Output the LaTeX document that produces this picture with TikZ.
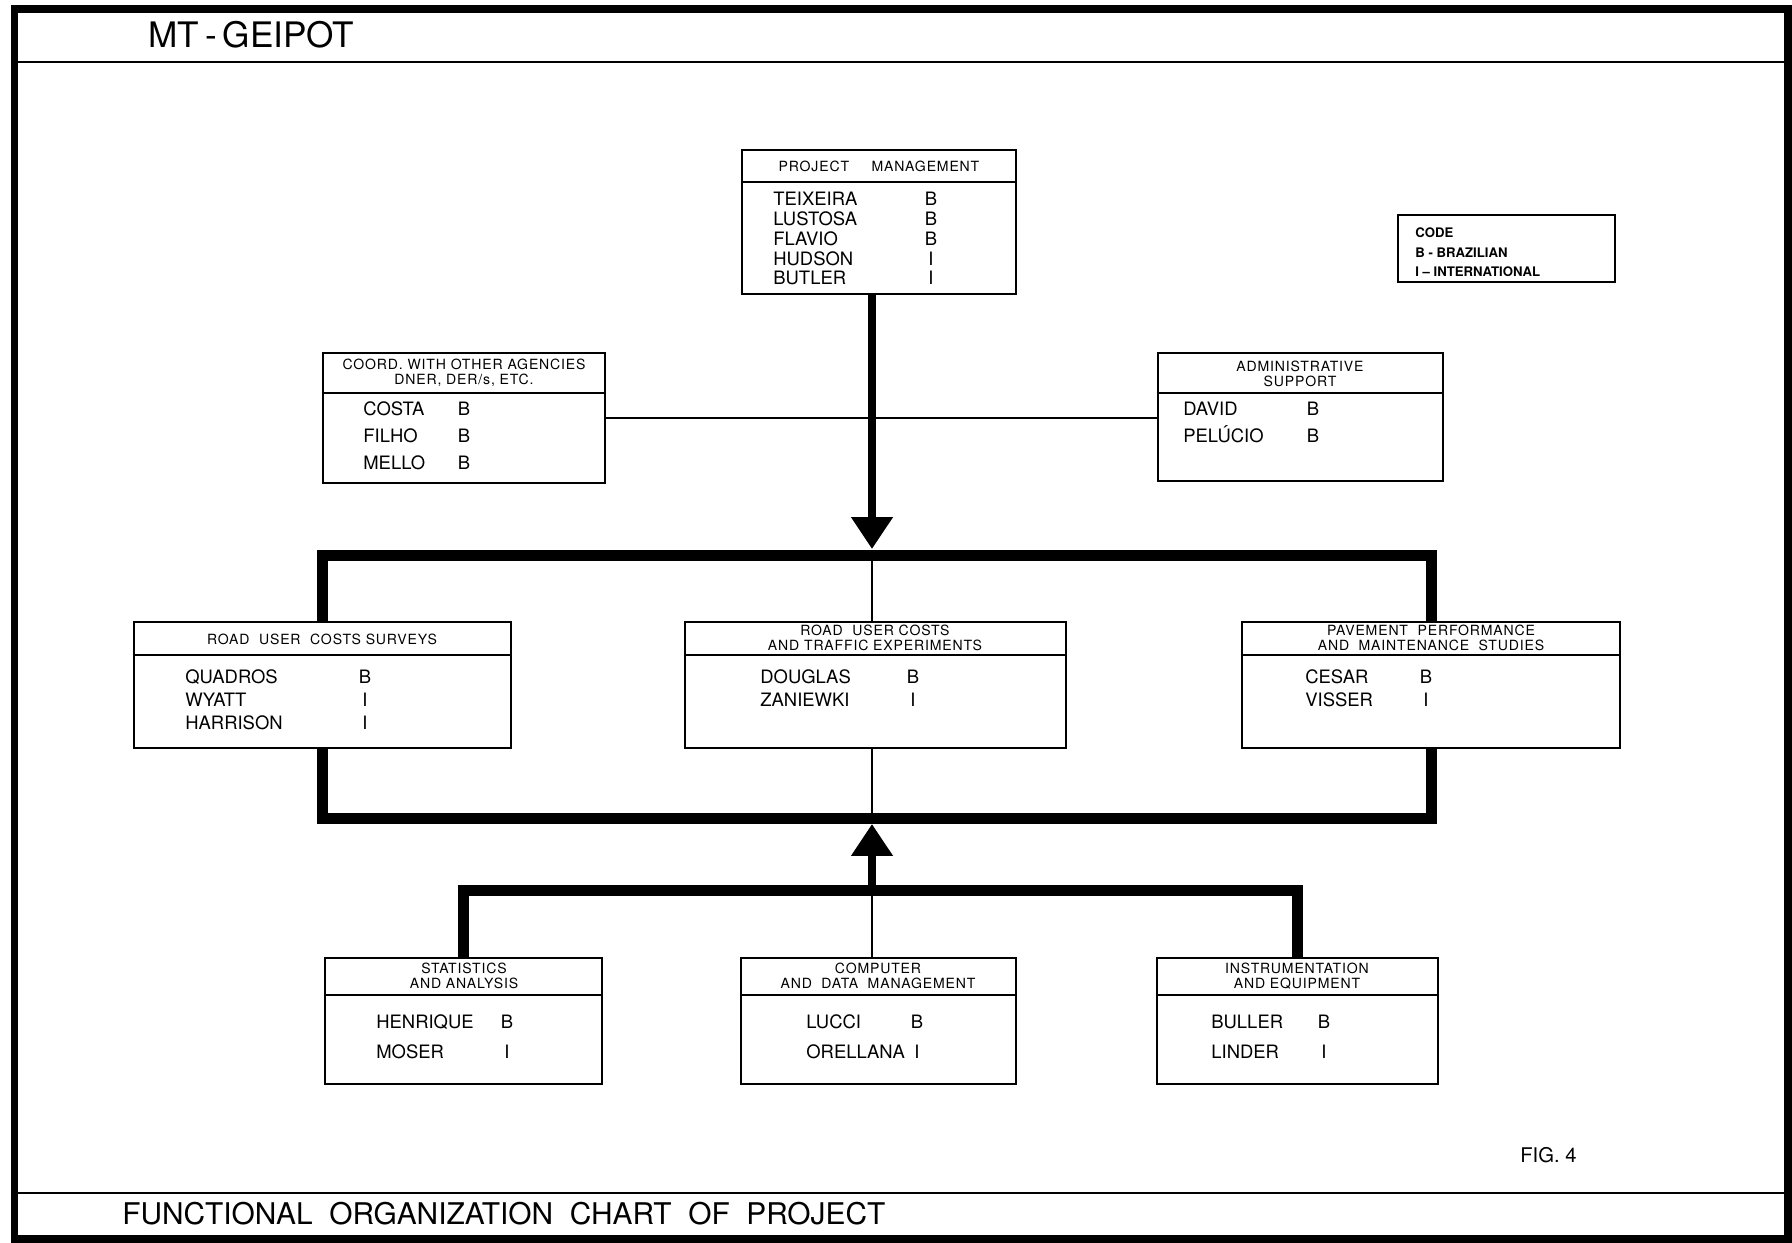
\documentclass[tikz,border=0pt]{standalone}
\usepackage{fontspec}
\setmainfont{TeX Gyre Heros}
\newfontfamily\capsfont[LetterSpace=6]{TeX Gyre Heros}
\usetikzlibrary{arrows.meta,fit}

\begin{document}
\begin{tikzpicture}[x=0.02cm,y=-0.02cm]
\tikzstyle{unit}=[draw,rectangle,line width=0.055cm,inner sep=0pt]
\tikzstyle{heading}=[align=center,inner sep=0pt,font=\capsfont\fontsize{8}{8.6}\selectfont]
\tikzstyle{person}=[anchor=base west,inner sep=0pt,font=\fontsize{10.5}{12}\selectfont]
\tikzstyle{nation}=[anchor=base,inner sep=0pt,font=\fontsize{10.5}{12}\selectfont]
\tikzstyle{rule}=[draw,line width=0.04cm]
\tikzstyle{link}=[draw,line width=0.05cm]
\tikzstyle{bus}=[draw,line width=0.22cm]
\tikzstyle{shaft}=[draw,line width=0.16cm,-{Triangle[width=0.8cm,length=0.64cm]}]

\useasboundingbox (0,0) rectangle (1792,1243);

% sheet frame
\node[draw,line width=0.16cm,inner sep=0pt,fit={(14.5,9) (1787.5,1239)}] (sheet) {};
\path[rule] (sheet.west |- 0,62) -- (sheet.east |- 0,62);
\path[rule] (sheet.west |- 0,1193) -- (sheet.east |- 0,1193);
\node[anchor=west,inner sep=0pt,font=\fontsize{20}{20}\selectfont] (title) at (148,35) {MT\hspace{0.12cm}-\hspace{0.12cm}GEIPOT};
\node[anchor=west,inner sep=0pt,font=\fontsize{17}{17}\selectfont] (caption) at (122,1214) {FUNCTIONAL\ \ ORGANIZATION\ \ CHART\ \ OF\ \ PROJECT};
\node[anchor=west,inner sep=0pt,font=\fontsize{11.5}{12}\selectfont] (fig) at (1520,1155) {FIG. 4};

% project management
\node[unit,fit={(742,150) (1016,294)}] (pm) {};
\path[rule] (pm.west |- 0,182) -- (pm.east |- 0,182);
\node[heading] (pm-h) at (879,166) {PROJECT\hspace{0.45cm}MANAGEMENT};
\foreach \nm/\cd [count=\i from 0] in {TEIXEIRA/B,LUSTOSA/B,FLAVIO/B,HUDSON/I,BUTLER/I}{
  \node[person] (pm-n\i) at (773,{206+19.7*\i}) {\nm};
  \node[nation] (pm-c\i) at (931,{206+19.7*\i}) {\cd};
}

% code
\node[unit,fit={(1398,215) (1615,282)}] (code) {};
\foreach \tx [count=\i from 0] in {CODE,B - BRAZILIAN,I -- INTERNATIONAL}
  \node[anchor=base west,inner sep=0pt,font=\bfseries\fontsize{7.5}{9}\selectfont] (code-\i) at (1415,{238+19.3*\i}) {\tx};

% coordination
\node[unit,fit={(323,353) (605,483)}] (coord) {};
\path[rule] (coord.west |- 0,393) -- (coord.east |- 0,393);
\node[heading] (coord-h) at (464,373) {COORD. WITH OTHER AGENCIES\\DNER, DER/s, ETC.};
\foreach \nm/\cd [count=\i from 0] in {COSTA/B,FILHO/B,MELLO/B}{
  \node[person] (coord-n\i) at (363,{416+26.5*\i}) {\nm};
  \node[nation] (coord-c\i) at (464,{416+26.5*\i}) {\cd};
}

% administrative support
\node[unit,fit={(1158,353) (1443,481)}] (admin) {};
\path[rule] (admin.west |- 0,393) -- (admin.east |- 0,393);
\node[heading] (admin-h) at (1300,374) {ADMINISTRATIVE\\SUPPORT};
\foreach \nm/\cd [count=\i from 0] in {DAVID/B,PELÚCIO/B}{
  \node[person] (admin-n\i) at (1183,{416+26*\i}) {\nm};
  \node[nation] (admin-c\i) at (1313,{416+26*\i}) {\cd};
}

% road user costs surveys
\node[unit,fit={(134,622) (511,748)}] (rucs) {};
\path[rule] (rucs.west |- 0,655) -- (rucs.east |- 0,655);
\node[heading] (rucs-h) at (322,639) {ROAD\ \ USER\ \ COSTS SURVEYS};
\foreach \nm/\cd [count=\i from 0] in {QUADROS/B,WYATT/I,HARRISON/I}{
  \node[person] (rucs-n\i) at (185,{683+23*\i}) {\nm};
  \node[nation] (rucs-c\i) at (365,{683+23*\i}) {\cd};
}

% traffic experiments
\node[unit,fit={(685,622) (1066,748)}] (ruct) {};
\path[rule] (ruct.west |- 0,655) -- (ruct.east |- 0,655);
\node[heading] (ruct-h) at (875,638) {ROAD\ \ USER COSTS\\AND TRAFFIC EXPERIMENTS};
\foreach \nm/\cd [count=\i from 0] in {DOUGLAS/B,ZANIEWKI/I}{
  \node[person] (ruct-n\i) at (760,{683+23*\i}) {\nm};
  \node[nation] (ruct-c\i) at (913,{683+23*\i}) {\cd};
}

% pavement
\node[unit,fit={(1242,622) (1620,748)}] (pave) {};
\path[rule] (pave.west |- 0,655) -- (pave.east |- 0,655);
\node[heading] (pave-h) at (1431,638) {PAVEMENT\ \ PERFORMANCE\\AND\ \ MAINTENANCE\ \ STUDIES};
\foreach \nm/\cd [count=\i from 0] in {CESAR/B,VISSER/I}{
  \node[person] (pave-n\i) at (1305,{683+23.5*\i}) {\nm};
  \node[nation] (pave-c\i) at (1426,{683+23.5*\i}) {\cd};
}

% statistics
\node[unit,fit={(325,958) (602,1084)}] (stat) {};
\path[rule] (stat.west |- 0,995) -- (stat.east |- 0,995);
\node[heading] (stat-h) at (464,976) {STATISTICS\\AND ANALYSIS};
\foreach \nm/\cd [count=\i from 0] in {HENRIQUE/B,MOSER/I}{
  \node[person] (stat-n\i) at (376,{1028+30*\i}) {\nm};
  \node[nation] (stat-c\i) at (507,{1028+30*\i}) {\cd};
}

% computer
\node[unit,fit={(741,958) (1016,1084)}] (comp) {};
\path[rule] (comp.west |- 0,995) -- (comp.east |- 0,995);
\node[heading] (comp-h) at (878,976) {COMPUTER\\AND\ \ DATA\ \ MANAGEMENT};
\foreach \nm/\cd [count=\i from 0] in {LUCCI/B,ORELLANA/I}{
  \node[person] (comp-n\i) at (806,{1028+30*\i}) {\nm};
  \node[nation] (comp-c\i) at (917,{1028+30*\i}) {\cd};
}

% instrumentation
\node[unit,fit={(1157,958) (1438,1084)}] (instr) {};
\path[rule] (instr.west |- 0,995) -- (instr.east |- 0,995);
\node[heading] (instr-h) at (1297,976) {INSTRUMENTATION\\AND EQUIPMENT};
\foreach \nm/\cd [count=\i from 0] in {BULLER/B,LINDER/I}{
  \node[person] (instr-n\i) at (1211,{1028+30*\i}) {\nm};
  \node[nation] (instr-c\i) at (1324,{1028+30*\i}) {\cd};
}

% connectors
\coordinate (side) at (872,418);
\path[link] (coord.east |- side) -- (admin.west |- side);
\coordinate (downtip) at (872,549);
\path[shaft] (downtip |- pm.south) -- (downtip);
\coordinate (topbus) at (872,555);
\path[bus] (rucs.north) |- (topbus) -| (pave.north);
\path[link] (topbus) -- (topbus |- ruct.north);
\coordinate (midbus) at (872,818);
\path[bus] (rucs.south) |- (midbus) -| (pave.south);
\path[link] (ruct.south -| midbus) -- (midbus);
\coordinate (uptip) at (872,824);
\coordinate (lowbus) at (872,890);
\path[shaft] (lowbus) -- (uptip);
\path[bus] (stat.north) |- (lowbus) -| (instr.north);
\path[link] (lowbus) -- (lowbus |- comp.north);

\end{tikzpicture}
\end{document}
